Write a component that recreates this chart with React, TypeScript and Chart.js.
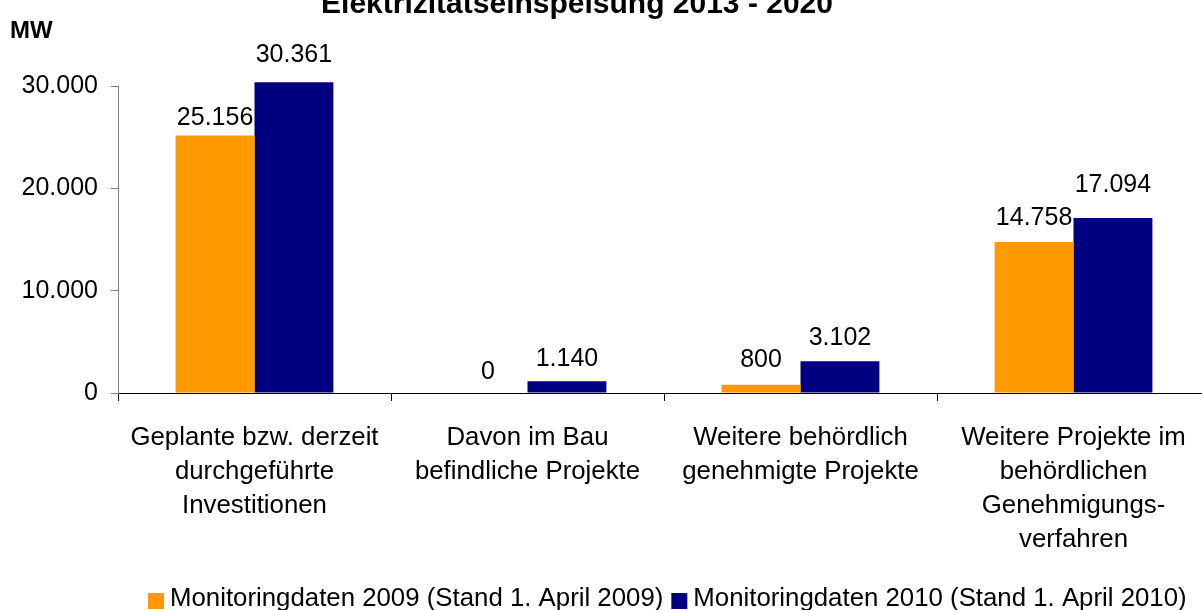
import { useEffect, useRef } from "react";
import { Chart, registerables } from "chart.js";

Chart.register(...registerables);

const chartTitle = "Elektrizitätseinspeisung 2013 - 2020";
const yUnit = "MW";
const categories = [
  ["Geplante bzw. derzeit", "durchgeführte", "Investitionen"],
  ["Davon im Bau", "befindliche Projekte"],
  ["Weitere behördlich", "genehmigte Projekte"],
  ["Weitere Projekte im", "behördlichen", "Genehmigungs-", "verfahren"],
];
const seriesNames = [
  "Monitoringdaten 2009 (Stand 1. April 2009)",
  "Monitoringdaten 2010 (Stand 1. April 2010)",
];
const values2009 = [25156, 0, 800, 14758];
const values2010 = [30361, 1140, 3102, 17094];
const yMin = 0;
const yMax = 30000;
const yStep = 10000;

// styling
const colors = ["#FF9900", "#000080"];
const FONT = "'Liberation Sans', Arial, sans-serif";
const labelGaps = [
  [11, 14, 18, 17],
  [20, 15, 16, 26],
];

const fmt = (v: number) =>
  String(Math.round(v)).replace(/\B(?=(\d{3})+(?!\d))/g, ".");

const overlay = {
  id: "overlay",
  afterDatasetsDraw(chart: any) {
    const ctx = chart.ctx;
    ctx.save();
    ctx.font = `25px ${FONT}`;
    ctx.fillStyle = "#000";
    ctx.textAlign = "center";
    ctx.textBaseline = "alphabetic";
    chart.data.datasets.forEach((ds: any, di: number) => {
      const meta = chart.getDatasetMeta(di);
      meta.data.forEach((bar: any, i: number) => {
        const v = ds.data[i];
        ctx.fillText(fmt(v), bar.x, bar.y - labelGaps[di][i]);
      });
    });
    ctx.restore();
  },
  afterDraw(chart: any) {
    const ctx = chart.ctx;
    ctx.save();
    // title
    ctx.font = `bold 30px ${FONT}`;
    ctx.fillStyle = "#000";
    ctx.textAlign = "center";
    ctx.textBaseline = "alphabetic";
    ctx.fillText(chartTitle, 577, 13);
    // unit
    ctx.font = `bold 24px ${FONT}`;
    ctx.textAlign = "left";
    ctx.fillText(yUnit, 10, 38);
    // legend
    ctx.font = `25.8px ${FONT}`;
    const box = 16;
    const boxGap = 6;
    const itemGap = 8;
    let x = 148;
    const baseY = 606;
    chart.data.datasets.forEach((d: any) => {
      ctx.fillStyle = d.backgroundColor;
      ctx.fillRect(x, 593, box, box);
      x += box + boxGap;
      ctx.fillStyle = "#000";
      ctx.fillText(d.label, x, baseY);
      x += ctx.measureText(d.label).width + itemGap;
    });
    ctx.restore();
  },
};

export default function App() {
  const ref = useRef<HTMLCanvasElement | null>(null);
  useEffect(() => {
    if (!ref.current) return;
    const chart = new Chart(ref.current, {
      type: "bar",
      data: {
        labels: categories,
        datasets: [
          {
            label: seriesNames[0],
            data: values2009,
            backgroundColor: colors[0],
            borderWidth: 0,
            clip: false as any,
          },
          {
            label: seriesNames[1],
            data: values2010,
            backgroundColor: colors[1],
            borderWidth: 0,
            clip: false as any,
          },
        ],
      },
      options: {
        responsive: false,
        animation: false,
        devicePixelRatio: 1,
        layout: { padding: { left: 0, right: 20, top: 86, bottom: 0 } },
        datasets: {
          bar: { barPercentage: 1, categoryPercentage: 0.578 },
        },
        plugins: {
          legend: { display: false },
          title: { display: false },
          tooltip: { enabled: false },
        },
        scales: {
          x: {
            offset: true,
            grid: {
              display: true,
              drawOnChartArea: false,
              drawTicks: true,
              tickLength: 8,
              color: "#000",
              offset: true,
            },
            border: { display: true, color: "#000", width: 1 },
            ticks: {
              color: "#000",
              padding: 20,
              maxRotation: 0,
              autoSkip: false,
              font: { family: FONT, size: 25.8, lineHeight: 34 / 25.8 },
            },
            afterFit: (s: any) => {
              s.height = 217;
            },
          },
          y: {
            min: yMin,
            max: yMax,
            grid: {
              display: true,
              drawOnChartArea: false,
              drawTicks: true,
              tickLength: 7,
              color: "#808080",
            },
            border: { display: true, color: "#808080", width: 1 },
            ticks: {
              stepSize: yStep,
              color: "#000",
              padding: 13,
              font: { family: FONT, size: 25 },
              callback: (v: any) => fmt(Number(v)),
            },
            afterFit: (s: any) => {
              s.width = 118;
            },
          },
        },
      },
      plugins: [overlay],
    });
    return () => chart.destroy();
  }, []);
  return (
    <div
      style={{
        position: "fixed",
        left: 0,
        top: 0,
        width: 1202,
        height: 610,
        overflow: "hidden",
        background: "#fff",
      }}
    >
      <canvas ref={ref} width={1230} height={610} style={{ display: "block" }} />
    </div>
  );
}
